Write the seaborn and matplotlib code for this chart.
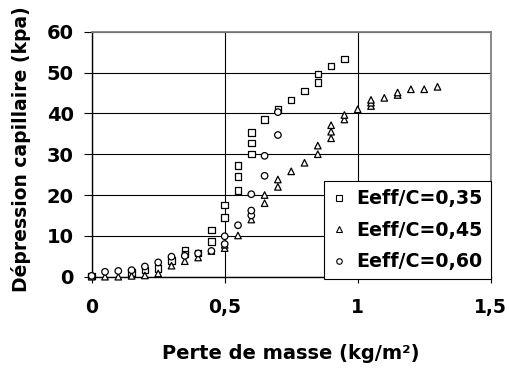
import pandas as pd
import seaborn as sns
import matplotlib
matplotlib.use("Agg")
import matplotlib.pyplot as plt
from matplotlib.lines import Line2D

# Eeff/C = 0,35 (carrés)
x_035 = [0, 0.15, 0.20, 0.25, 0.30, 0.35, 0.35, 0.40, 0.45, 0.45, 0.50, 0.50,
         0.55, 0.55, 0.55, 0.60, 0.60, 0.60, 0.65, 0.70, 0.75, 0.80, 0.85, 0.85,
         0.90, 0.95]
y_035 = [0.2, 1.0, 1.6, 2.0, 4.0, 6.4, 5.5, 5.8, 11.4, 8.6, 17.6, 14.5,
         27.2, 24.5, 21.1, 35.3, 32.7, 30.0, 38.5, 41.0, 43.3, 45.5, 47.6, 49.6,
         51.6, 53.3]

# Eeff/C = 0,45 (triangles)
x_045 = [0, 0.05, 0.10, 0.15, 0.20, 0.25, 0.30, 0.35, 0.40, 0.45, 0.50, 0.50,
         0.55, 0.60, 0.65, 0.65, 0.70, 0.70, 0.75, 0.80, 0.85, 0.85, 0.90, 0.90,
         0.90, 0.95, 0.95, 1.00, 1.05, 1.05, 1.05, 1.10, 1.15, 1.15, 1.20, 1.25,
         1.30]
y_045 = [0.0, 0.0, 0.0, 0.2, 0.3, 0.8, 2.7, 3.8, 4.7, 6.3, 7.0, 7.8,
         10.1, 14.0, 18.0, 20.0, 22.0, 23.8, 25.8, 27.9, 30.0, 32.1, 33.9, 35.5,
         37.1, 38.5, 39.6, 41.0, 41.8, 42.6, 43.3, 43.8, 44.5, 45.1, 45.9, 45.9,
         46.5]

# Eeff/C = 0,60 (cercles)
x_060 = [0, 0.05, 0.10, 0.15, 0.20, 0.25, 0.30, 0.35, 0.40, 0.45, 0.50, 0.50,
         0.55, 0.60, 0.60, 0.60, 0.65, 0.65, 0.70, 0.70]
y_060 = [0.2, 1.2, 1.4, 1.6, 2.5, 3.5, 4.9, 5.1, 5.7, 6.3, 9.9, 8.0,
         12.6, 15.0, 16.2, 20.2, 24.7, 29.6, 34.7, 40.3]

labels = ["Eeff/C=0,35", "Eeff/C=0,45", "Eeff/C=0,60"]
markers = {"Eeff/C=0,35": "s", "Eeff/C=0,45": "^", "Eeff/C=0,60": "o"}

x_ticks = [0, 0.5, 1, 1.5]
x_tick_labels = ["0", "0,5", "1", "1,5"]
y_ticks = [0, 10, 20, 30, 40, 50, 60]

df = pd.concat([
    pd.DataFrame({"x": x_035, "y": y_035, "serie": labels[0]}),
    pd.DataFrame({"x": x_045, "y": y_045, "serie": labels[1]}),
    pd.DataFrame({"x": x_060, "y": y_060, "serie": labels[2]}),
])

sns.set_style("white")
plt.rcParams["font.family"] = ["DejaVu Sans"]
plt.rcParams["font.weight"] = "bold"
plt.rcParams["text.color"] = "black"
plt.rcParams["axes.labelcolor"] = "black"

fig = plt.figure(figsize=(5.09, 3.68), dpi=100)
ax = fig.add_axes([91.7 / 509, (368 - 276.7) / 368, 399 / 509, 245 / 368])

sns.scatterplot(data=df, x="x", y="y", style="serie", markers=markers,
                color="white", edgecolor="black", linewidth=0.9, s=22,
                legend=False, ax=ax, clip_on=False, zorder=3)

ax.set_xlim(0, 1.5)
ax.set_ylim(0, 60)
ax.set_xticks(x_ticks)
ax.set_xticklabels(x_tick_labels)
ax.set_yticks(y_ticks)

ax.grid(True, color="black", linewidth=0.8)
ax.set_axisbelow(True)
for side in ["left", "bottom"]:
    ax.spines[side].set_color("black")
    ax.spines[side].set_linewidth(1.0)
for side in ["top", "right"]:
    ax.spines[side].set_color("#808080")
    ax.spines[side].set_linewidth(1.3)

ax.tick_params(axis="x", direction="out", length=4.5, width=0.8, pad=11,
               labelsize=13.5, bottom=True, colors="black")
ax.tick_params(axis="y", direction="out", length=6, width=0.8, pad=7,
               labelsize=14, left=True, colors="black")

ax.set_xlabel("Perte de masse (kg/m²)", fontsize=14, fontweight="bold",
              labelpad=19, color="black")
ax.set_ylabel("Dépression capillaire (kpa)", fontsize=13.5, fontweight="bold",
              labelpad=6, color="black")
ax.yaxis.set_label_coords(-0.152, 0.52)

handles = [Line2D([], [], linestyle="none", marker=markers[lab], markersize=4,
                  markerfacecolor="white", markeredgecolor="black",
                  markeredgewidth=0.8, label=lab) for lab in labels]
leg = ax.legend(handles=handles, loc="lower right", bbox_to_anchor=(1.0, -0.011),
                frameon=True, fancybox=False, framealpha=1, edgecolor="black",
                prop={"size": 13.7, "weight": "bold"}, handlelength=0.8,
                handletextpad=0.5, labelspacing=0.66, borderpad=0.42,
                borderaxespad=0)
leg.get_frame().set_linewidth(0.8)
leg.set_zorder(5)

plt.savefig("out.png", dpi=100)
